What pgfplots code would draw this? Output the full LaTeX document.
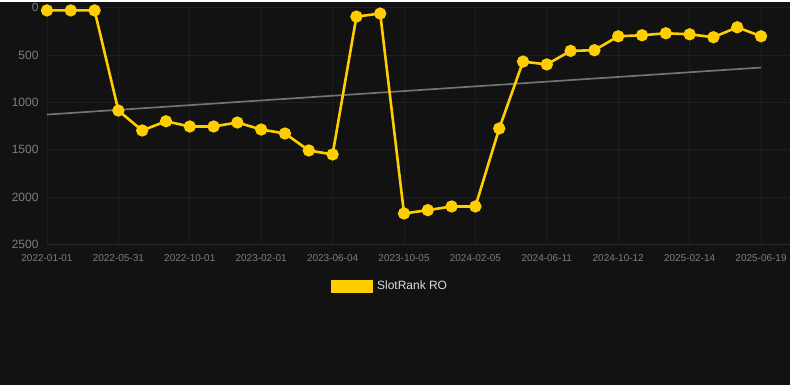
\documentclass[border=0pt]{standalone}
\usepackage{pgfplots}
\pgfplotsset{compat=1.18}
\usepackage{fontspec}
\setmainfont{Liberation Sans}
\definecolor{bg}{RGB}{18,18,18}
\definecolor{gridc}{RGB}{30,30,30}
\definecolor{basec}{RGB}{42,42,42}
\definecolor{tickc}{RGB}{125,125,125}
\definecolor{gold}{RGB}{255,206,0}
\definecolor{trend}{RGB}{115,115,115}
\definecolor{legtext}{RGB}{220,220,220}
\begin{document}
\begin{tikzpicture}[x=1pt,y=1pt]
\fill[bg] (0,0) rectangle (790,384);
\begin{axis}[
  at={(47pt,141pt)}, anchor=south west,
  scale only axis, width=743pt, height=237pt,
  xmin=0, xmax=31.2, ymin=0, ymax=2500, y dir=reverse,
  axis line style={draw=none},
  tick style={draw=none},
  grid=major, major grid style={gridc, line width=0.8pt},
  xtick={0,3,...,30},
  xticklabels={2022-01-01,2022-05-31,2022-10-01,2023-02-01,2023-06-04,2023-10-05,2024-02-05,2024-06-11,2024-10-12,2025-02-14,2025-06-19},
  ytick={0,500,1000,1500,2000,2500},
  x tick label style={font=\fontsize{10}{10}\selectfont, text=tickc, yshift=-7pt},
  y tick label style={font=\fontsize{12}{12}\selectfont, text=tickc},
  yticklabel style={xshift=-5pt},
  /pgf/number format/assume math mode=true,
  /pgf/number format/1000 sep={},
  legend style={at={(0.4630,-0.177)}, anchor=center, draw=none, fill=none, text=legtext, font=\fontsize{12}{12}\selectfont, legend cell align=left, nodes={inner xsep=4pt}},
  clip=false,
]
\draw[basec, line width=0.8pt] (axis cs:0,2500) -- (axis cs:31.2,2500);
\addplot[trend, line width=1.7pt, forget plot] coordinates {(0,1129) (30,633)};
\addplot[gold, line width=2.6pt, mark=*, mark size=4.8pt, mark options={fill=gold, draw=none, solid},
  legend image code/.code={\fill[gold] (0pt,-5.5pt) rectangle (40pt,5.5pt);}] coordinates {
(0,30) (1,30) (2,30) (3,1087) (4,1297) (5,1200) (6,1255) (7,1255) (8,1213) (9,1287)
(10,1329) (11,1508) (12,1550) (13,95) (14,63) (15,2173) (16,2138) (17,2099) (18,2099) (19,1276)
(20,570) (21,600) (22,457) (23,450) (24,303) (25,292) (26,271) (27,282) (28,313) (29,208) (30,303)
};
\addlegendentry{SlotRank RO}
\end{axis}
\end{tikzpicture}
\end{document}
